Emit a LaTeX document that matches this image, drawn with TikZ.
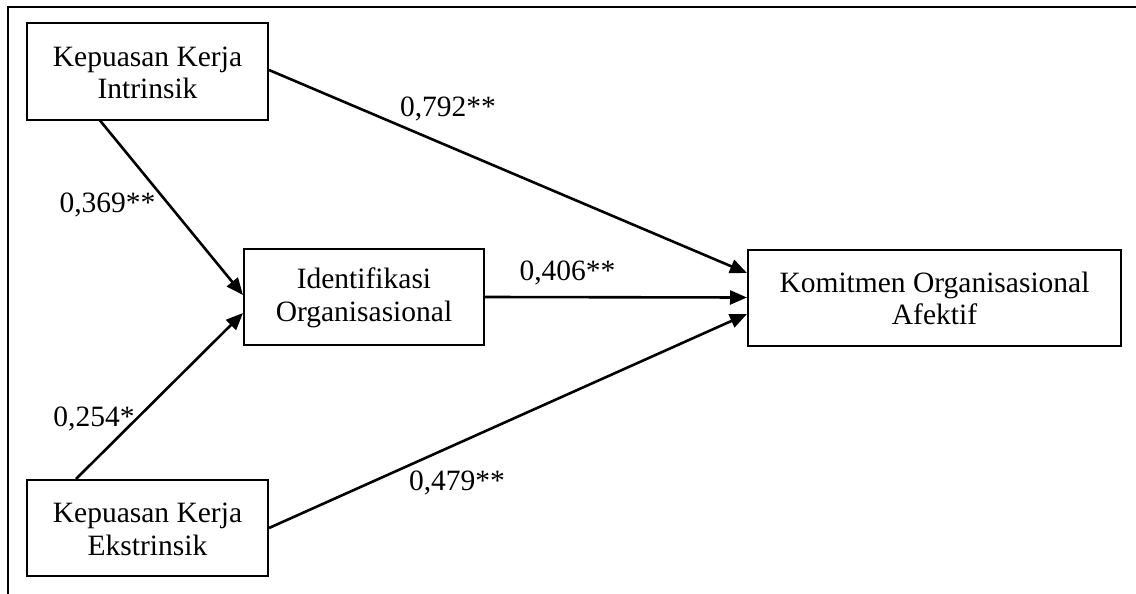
\documentclass[tikz,border=0pt]{standalone}
\usepackage{fontspec}
\setmainfont{Liberation Serif}
\usetikzlibrary{arrows.meta}
\begin{document}
\begin{tikzpicture}[x=1pt,y=-1pt,
  box/.style={draw,line width=2pt,align=center,inner sep=0pt,minimum height=96pt,font=\fontsize{29.5pt}{32.5pt}\selectfont},
  path/.style={line width=2.6pt,-{Triangle[length=17pt,width=14pt]}},
  lbl/.style={anchor=base,inner sep=0pt,font=\fontsize{29.5pt}{33pt}\selectfont}]
\useasboundingbox (0,0) rectangle (1136,594);
\draw[line width=2.2pt] (8,594) -- (8,7) -- (1136,7);
\node[box,minimum width=241pt] (ki) at (147.5,71.5) {\strut Kepuasan Kerja\\Intrinsik};
\node[box,minimum width=241pt] (ke) at (147.5,528) {\strut Kepuasan Kerja\\Ekstrinsik};
\node[box,minimum width=240pt] (io) at (364,297) {\strut Identifikasi\\Organisasional};
\node[box,minimum width=373pt] (ko) at (934.5,297.5) {\strut Komitmen Organisasional\\Afektif};
\draw[path] ([xshift=-47.5pt]ki.south) -- ([yshift=2pt]io.west);
\draw[path] ([xshift=-71.5pt]ke.north) -- ([yshift=-16pt]io.west);
\draw[path] ([yshift=1.5pt]ki.east) -- ([yshift=24.5pt]ko.west);
\draw[path] (io.east) -- (ko.west);
\draw[path] (ke.east) -- ([yshift=-16.5pt]ko.west);
\node[lbl] (l1) at (448,117) {0,792**};
\node[lbl] (l2) at (107.5,212) {0,369**};
\node[lbl] (l3) at (567.5,280) {0,406**};
\node[lbl] (l4) at (94,426) {0,254*};
\node[lbl] (l5) at (457,490) {0,479**};
\end{tikzpicture}
\end{document}
